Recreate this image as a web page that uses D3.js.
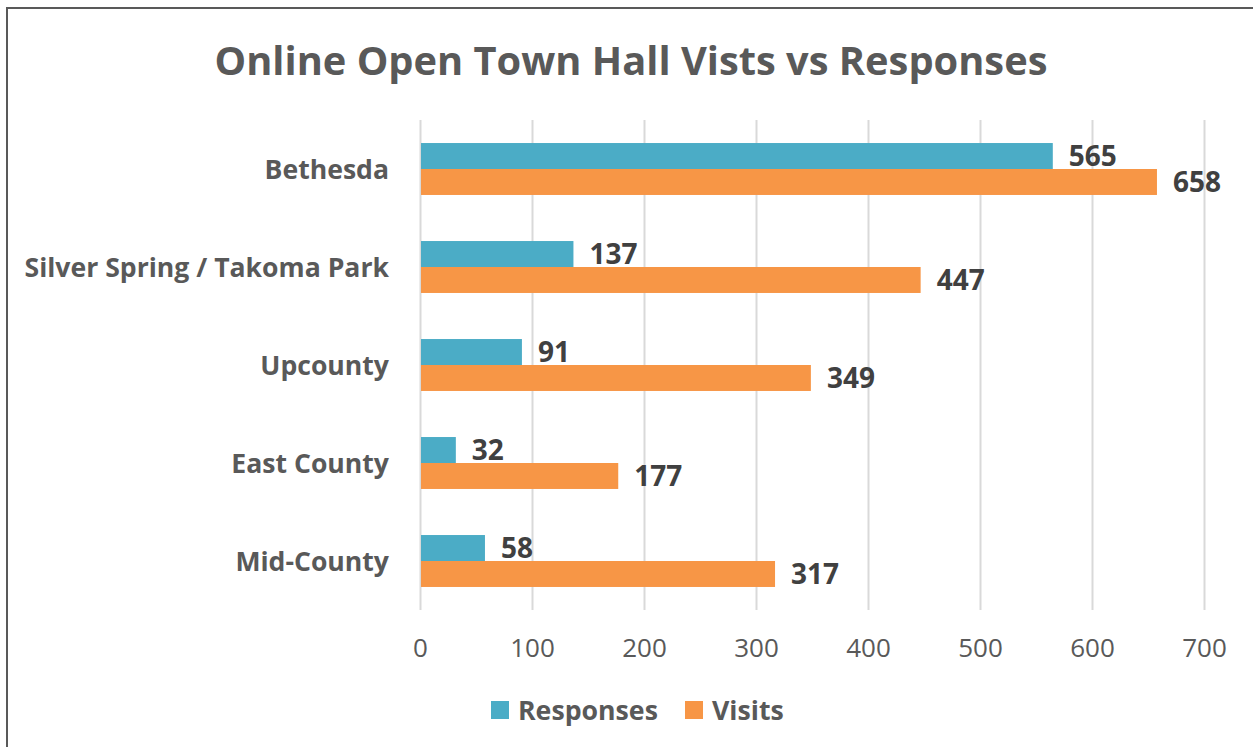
<!DOCTYPE html>
<html>
<head>
<meta charset="utf-8">
<script src="https://cdn.jsdelivr.net/npm/d3@7"></script>
<style>
	body { margin: 0; background: #fff; }
	svg { display: block; font-family: "Open Sans", sans-serif; }
</style>
</head>
<body>
<svg id="chart" width="1253" height="747"></svg>
<script>
const regions = ['Bethesda', 'Silver Spring / Takoma Park', 'Upcounty', 'East County', 'Mid-County'];
const series = ['Responses', 'Visits'];
const responses = [565, 137, 91, 32, 58];
const visits = [658, 447, 349, 177, 317];
const xTicks = [0, 100, 200, 300, 400, 500, 600, 700];
const colors = ['#4bacc6', '#f79646'];

const w = 1253;
const h = 747;
const plotLeft = 420;
const plotRight = 1204;
const plotTop = 120;
const plotBottom = 610;

const rows = regions.map((r, i) => ({ region: r, values: [responses[i], visits[i]] }));

const svg = d3.select('#chart');

// frame: only top and left edges are visible in the shot
svg.append('rect')
	.attr('x', 7)
	.attr('y', 8)
	.attr('width', w)
	.attr('height', h)
	.attr('fill', 'none')
	.attr('stroke', '#595959')
	.attr('stroke-width', 2);

const xScale = d3.scaleLinear()
	.domain([0, 700])
	.range([plotLeft, plotRight]);
const yScale = d3.scaleBand()
	.domain(regions)
	.range([plotTop, plotBottom])
	.paddingInner(0.47)
	.paddingOuter(0.235);
const subScale = d3.scaleBand()
	.domain(series)
	.range([0, yScale.bandwidth()]);

const xAxis = d3.axisBottom(xScale)
	.tickValues(xTicks)
	.tickSize(plotBottom - plotTop)
	.tickFormat(d3.format('d'));

svg.append('g')
	.attr('id', 'x-axis')
	.attr('transform', 'translate(0,' + plotTop + ')')
	.call(xAxis)
	.attr('font-family', '"Open Sans", sans-serif')
	.call(g => g.select('.domain').remove())
	.call(g => g.selectAll('.tick line').attr('stroke', '#d9d9d9').attr('stroke-width', 2))
	.call(g => g.selectAll('.tick text')
		.attr('fill', '#595959')
		.attr('font-size', '26px')
		.attr('dy', 0)
		.attr('y', plotBottom - plotTop + 47));

const groups = svg.append('g')
	.selectAll('g')
	.data(rows)
	.enter()
	.append('g')
	.attr('transform', d => 'translate(0,' + yScale(d.region) + ')');

groups.selectAll('rect')
	.data(d => d.values.map((v, i) => ({ key: series[i], value: v, color: colors[i] })))
	.enter()
	.append('rect')
	.attr('x', xScale(0) + 1)
	.attr('y', d => subScale(d.key))
	.attr('width', d => xScale(d.value) - xScale(0) - 1)
	.attr('height', subScale.bandwidth())
	.attr('fill', d => d.color);

groups.selectAll('text.value')
	.data(d => d.values.map((v, i) => ({ key: series[i], value: v })))
	.enter()
	.append('text')
	.attr('class', 'value')
	.attr('x', d => xScale(d.value) + 16)
	.attr('y', d => subScale(d.key) + subScale.bandwidth() / 2)
	.attr('dy', '0.36em')
	.attr('fill', '#404040')
	.attr('font-size', '28px')
	.attr('font-weight', 'bold')
	.text(d => d.value);

svg.append('g')
	.selectAll('text')
	.data(regions)
	.enter()
	.append('text')
	.attr('x', 389)
	.attr('y', d => yScale(d) + yScale.bandwidth() / 2)
	.attr('dy', '0.36em')
	.attr('text-anchor', 'end')
	.attr('fill', '#595959')
	.attr('font-size', '26.6px')
	.attr('font-weight', 'bold')
	.text(d => d);

svg.append('text')
	.attr('id', 'title')
	.attr('x', 631)
	.attr('y', 75)
	.attr('text-anchor', 'middle')
	.attr('fill', '#595959')
	.attr('font-size', '39.8px')
	.attr('font-weight', 'bold')
	.text('Online Open Town Hall Vists vs Responses');

const legend = svg.append('g').attr('id', 'legend');
const legendX = [491, 685];
series.forEach((s, i) => {
	legend.append('rect')
		.attr('x', legendX[i])
		.attr('y', 701)
		.attr('width', 18)
		.attr('height', 18)
		.attr('fill', colors[i]);
	legend.append('text')
		.attr('x', legendX[i] + 27)
		.attr('y', 720)
		.attr('fill', '#595959')
		.attr('font-size', '26.7px')
		.attr('font-weight', 'bold')
		.text(s);
});
</script>
</body>
</html>
